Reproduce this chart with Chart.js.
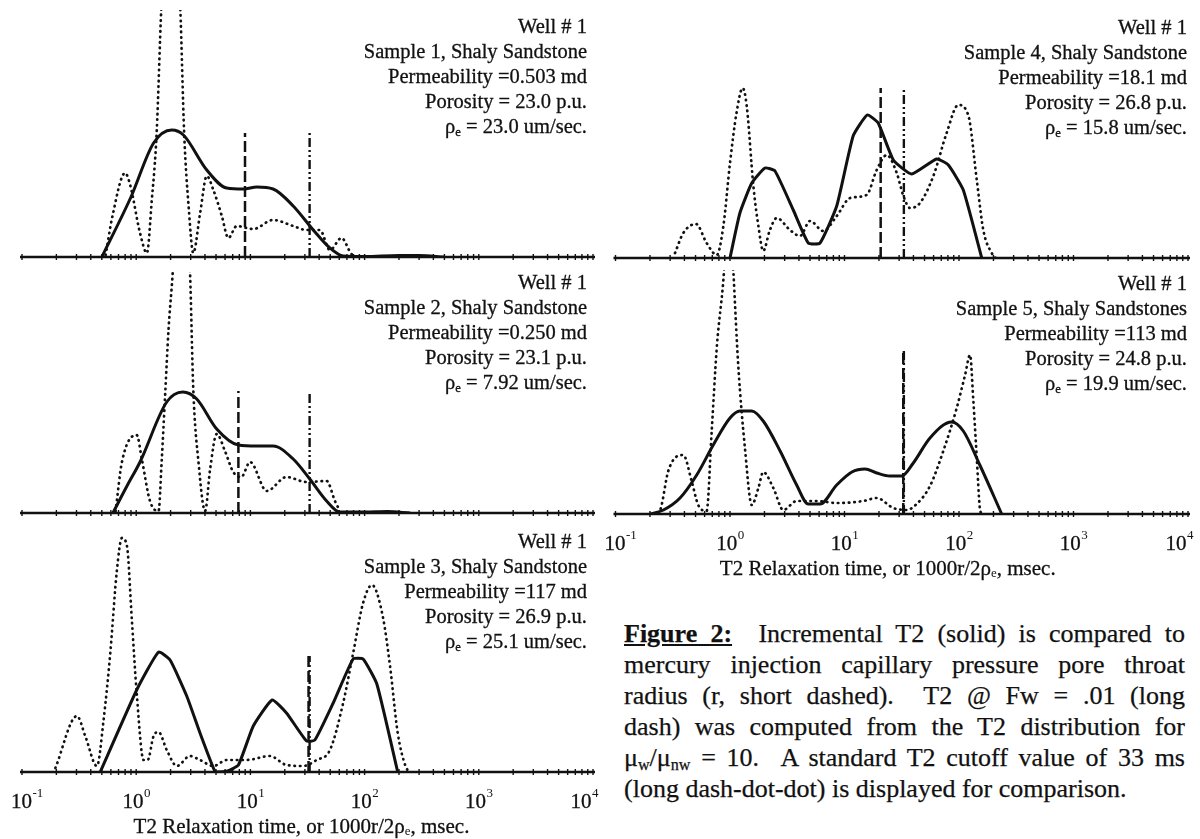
<!DOCTYPE html>
<html>
<head>
<meta charset="utf-8">
<script src="https://cdn.jsdelivr.net/npm/chart.js@4.4.1/dist/chart.umd.min.js"></script>
<style>
  body { margin: 0; background: #fff; }
  #page { position: relative; width: 1200px; height: 839px; overflow: hidden;
          font-family: "Liberation Serif", "Times New Roman", serif; color: #111; }
  #page canvas { position: absolute; }
  .info { position: absolute; text-align: right; font-size: 20.5px; line-height: 25px; white-space: nowrap;
          -webkit-text-stroke: 0.3px #111; }
  .info sub, .caption sub { font-size: 0.62em; line-height: 0; vertical-align: -0.25em; }
  .caption { position: absolute; left: 624px; top: 618px; width: 561px; font-size: 26px; line-height: 31px;
             -webkit-text-stroke: 0.25px #111; }
  .caption .j { text-align: justify; text-align-last: justify; }
</style>
</head>
<body>
<div id="page">
  <canvas id="panel1"></canvas>
  <canvas id="panel2"></canvas>
  <canvas id="panel3"></canvas>
  <canvas id="panel4"></canvas>
  <canvas id="panel5"></canvas>
  <div class="caption">
    <div class="j"><b><u>Figure 2:</u></b>&nbsp; Incremental T2 (solid) is compared to</div>
    <div class="j">mercury injection capillary pressure pore throat</div>
    <div class="j">radius (r, short dashed). &nbsp;T2 @ Fw = .01 (long</div>
    <div class="j">dash) was computed from the T2 distribution for</div>
    <div class="j">&mu;<sub>w</sub>/&mu;<sub>nw</sub> = 10. &nbsp;A standard T2 cutoff value of 33 ms</div>
    <div>(long dash-dot-dot) is displayed for comparison.</div>
  </div>
</div>
<script>
// sample descriptions
const wellName = 'Well # 1';
const sampleNames = ['Sample 1, Shaly Sandstone', 'Sample 2, Shaly Sandstone', 'Sample 3, Shaly Sandstone',
                     'Sample 4, Shaly Sandstone', 'Sample 5, Shaly Sandstones'];
const permeability = ['0.503', '0.250', '117', '18.1', '113'];
const porosity = ['23.0', '23.1', '26.9', '26.8', '24.8'];
const rhoE = ['23.0', '7.92', '25.1', '15.8', '19.9'];

// incremental T2 (solid), time in ms, amplitude in arbitrary units
const t2Time1 = [0.50, 0.9, 1.42, 2.05, 2.59, 4.15, 6.2, 8.7, 11.4, 15.8, 23.7, 35.5, 49.7, 65, 100, 200, 300, 500];
const t2Amp1 = [0, 60, 114, 127, 122, 87, 69, 68, 70, 68, 51, 27, 9, 1, 0.5, 1.5, 1.5, 0];
const t2Time2 = [0.625, 0.83, 1.08, 1.85, 2.56, 3.39, 5.07, 7.85, 11.4, 15.8, 23.7, 33.1, 46.5, 60.7, 100, 158, 251];
const t2Amp2 = [0, 27, 51, 111, 121, 114, 84, 68, 67, 67, 54, 34, 12, 1, 1, 1.5, 0];
const t2Time3 = [0.484, 1.01, 1.57, 1.98, 2.77, 3.62, 4.74, 5.0, 6.2, 7.85, 10.6, 15.5, 20.7, 31.0, 36.7, 53.1, 79.4, 97.0, 128, 195];
const t2Amp3 = [0, 82, 120, 112, 76, 39, 4, 0, 0.7, 7, 46, 72, 59, 31, 32, 69, 113, 113, 88, 0];
const t2Time4 = [1.0, 1.22, 1.55, 2.02, 2.47, 3.57, 4.83, 6.11, 8.55, 11.9, 15.8, 19.7, 26.7, 38.6, 63.8, 80.7, 109, 158];
const t2Amp4 = [0, 45, 75, 90, 87, 48, 15, 15, 52, 122, 143, 135, 98, 84, 99, 93, 68, 0];
const t2Time5 = [0.2, 0.262, 0.366, 0.512, 0.714, 1.0, 1.22, 1.55, 1.95, 2.74, 3.82, 4.83, 6.11, 8.55, 11.6, 15.1, 19.1,
                 24.9, 31.6, 39.9, 55.8, 86.3, 109, 152, 236];
const t2Amp5 = [0, 4, 16, 39, 69, 96, 103, 103, 93, 63, 29, 10, 10, 29, 42, 45, 41, 38, 38, 51, 76, 92, 83, 49, 0];

// mercury injection pore throat distribution (short dashed), plotted as 1000r/2rho_e
const hgTime1 = [0.54, 0.62, 0.80, 0.89, 1.08, 1.24, 1.37, 1.51, 1.66, 2.0, 2.43, 2.63, 2.88, 3.16, 3.63, 4.15, 4.74,
                 5.62, 6.41, 7.59, 9.27, 10.6, 15.8, 23.7, 31.0, 40.6, 49.7, 62.8, 76.7, 89];
const hgAmp1 = [2, 41, 84, 71, 24, 4, 57, 124, 250, 420, 250, 124, 50, 4, 44, 81, 67, 41, 19, 31, 29, 28, 37, 31, 27,
                27, 7, 19, 3, 0];
const hgTime2 = [0.66, 0.75, 1.01, 1.12, 1.32, 1.57, 1.67, 1.79, 1.92, 2.09, 2.49, 2.96, 3.16, 3.51, 4.01, 4.44, 5.07,
                 6.03, 7.08, 8.32, 9.93, 13.9, 20.7, 30.9, 46.5, 55.0, 60.7];
const hgAmp2 = [2, 51, 78, 54, 12, 2, 51, 117, 184, 241, 400, 241, 124, 51, 2, 44, 79, 61, 41, 36, 51, 22, 36, 31, 32, 12, 2];
const hgTime3 = [0.196, 0.303, 0.358, 0.453, 0.518, 0.593, 0.678, 0.75, 0.83, 0.916, 1.01, 1.16, 1.26, 1.42, 1.57, 1.85,
                 2.27, 2.96, 3.62, 4.74, 6.21, 9.27, 14.8, 20.7, 29.0, 38.0, 49.7, 64.9, 79.4, 97.0, 116, 144, 167, 195, 228, 245];
const hgAmp3 = [4, 56, 36, 6, 52, 119, 202, 234, 226, 152, 79, 12, 12, 36, 40, 22, 6, 16, 12, 6, 12, 12, 16, 7, 6, 12,
                22, 69, 119, 169, 187, 156, 106, 39, 6, 0];
const hgTime4 = [0.331, 0.391, 0.505, 0.625, 0.766, 0.875, 1.0, 1.14, 1.29, 1.40, 1.60, 1.77, 1.95, 2.23, 2.56, 3.34,
                 4.08, 5.0, 6.53, 8.55, 11.2, 15.6, 19.1, 23.4, 28.6, 32.7, 37.3, 45.6, 59.7, 78.0, 98.6, 121, 143, 163, 193, 209];
const hgAmp4 = [5, 25, 34, 15, 3, 32, 95, 145, 170, 152, 72, 32, 7, 28, 40, 28, 22, 37, 27, 42, 60, 63, 88, 103, 85, 62,
                50, 55, 82, 125, 153, 142, 78, 28, 5, 0];
const hgTime5 = [0.24, 0.253, 0.289, 0.391, 0.462, 0.528, 0.625, 0.692, 0.766, 0.887, 0.977, 1.07, 1.18, 1.35, 1.55, 1.77,
                 1.95, 2.39, 2.92, 3.82, 5.71, 8.55, 14.6, 19.1, 26.7, 34.9, 42.7, 55.8, 72.9, 95.5, 113, 125, 133, 143, 152, 158];
const hgAmp5 = [0, 9, 43, 59, 33, 9, 3, 83, 166, 243, 330, 243, 149, 66, 9, 26, 42, 26, 4, 13, 13, 11, 13, 16, 6, 4, 10,
                28, 63, 106, 139, 159, 116, 56, 6, 0];

// T2 @ Fw = .01 (long dash) and the standard 33 ms cutoff (dash-dot-dot)
const fwCutoff = [8.97, 7.85, 32.3, 20.7, 32.6];
const standardCutoff = 33;
const markerHeight = [124, 122, 116, 170, 163];

// x axis
const tickExponents = [-1, 0, 1, 2, 3, 4];
const axisTitle = ['T2 Relaxation time, or 1000r/2\u03c1', 'e', ', msec.'];

const t2Times = [t2Time1, t2Time2, t2Time3, t2Time4, t2Time5];
const t2Amps = [t2Amp1, t2Amp2, t2Amp3, t2Amp4, t2Amp5];
const hgTimes = [hgTime1, hgTime2, hgTime3, hgTime4, hgTime5];
const hgAmps = [hgAmp1, hgAmp2, hgAmp3, hgAmp4, hgAmp5];

// panel boxes on the page (left column 1-3, right column 4-5)
const panels = [
  { left: 0,   top: 0,   width: 600, height: 265, pad: { left: 22, right: 7, top: 10, bottom: 8 },  ymax: 247, labels: false, smooth: true },
  { left: 0,   top: 265, width: 600, height: 260, pad: { left: 22, right: 7, top: 7, bottom: 12 },  ymax: 241, labels: false, smooth: true },
  { left: 0,   top: 525, width: 600, height: 314, pad: { left: 22, right: 7, top: 2, bottom: 67 },  ymax: 245, labels: true,  smooth: false, titleShift: -6 },
  { left: 600, top: 0,   width: 600, height: 265, pad: { left: 15.5, right: 12, top: 11, bottom: 7 }, ymax: 247, labels: false, smooth: false },
  { left: 600, top: 265, width: 600, height: 320, pad: { left: 15.5, right: 12, top: 5, bottom: 71 }, ymax: 244, labels: true,  smooth: true, titleShift: -14 }
];

const ink = '#111';
const serif = '"Liberation Serif", "Times New Roman", serif';

function points(xs, ys) {
  return xs.map((x, i) => ({ x: x, y: ys[i] }));
}

// baseline with log ticks, and decade labels on the bottom panels
const logAxis = {
  id: 'logAxis',
  afterDatasetsDraw(chart, args, opts) {
    const ctx = chart.ctx;
    const area = chart.chartArea;
    const x = chart.scales.x;
    const y0 = area.bottom;
    ctx.save();
    ctx.strokeStyle = ink;
    ctx.lineWidth = 2.5;
    ctx.beginPath();
    ctx.moveTo(area.left - 2, y0);
    ctx.lineTo(area.right + 2, y0);
    ctx.stroke();

    ctx.lineWidth = 1.4;
    for (let e = tickExponents[0]; e <= tickExponents[tickExponents.length - 1]; e++) {
      for (let m = 1; m <= 9; m++) {
        const v = m * Math.pow(10, e);
        if (v > x.max * 1.0001) break;
        const px = x.getPixelForValue(v);
        ctx.beginPath();
        ctx.moveTo(px, y0 - 3);
        ctx.lineTo(px, y0 + 3);
        ctx.stroke();
      }
    }

    if (opts.labels) {
      ctx.fillStyle = ink;
      ctx.strokeStyle = ink;
      ctx.lineWidth = 0.3;
      ctx.textBaseline = 'middle';
      ctx.textAlign = 'left';
      tickExponents.forEach(e => {
        const px = x.getPixelForValue(Math.pow(10, e));
        ctx.font = '21px ' + serif;
        const wBase = ctx.measureText('10').width;
        ctx.font = '13px ' + serif;
        const exp = String(e);
        const wExp = ctx.measureText(exp).width;
        let x0 = px - (wBase + wExp) / 2;
        // keep the end labels inside the panel
        x0 = Math.max(x0, area.left - 11);
        x0 = Math.min(x0, area.right + 5 - wBase - wExp);
        ctx.font = '21px ' + serif;
        ctx.fillText('10', x0, y0 + 30);
        ctx.strokeText('10', x0, y0 + 30);
        ctx.font = '13px ' + serif;
        ctx.fillText(exp, x0 + wBase + 0.5, y0 + 22);
      });

      // axis title with subscript e
      ctx.font = '21px ' + serif;
      const w1 = ctx.measureText(axisTitle[0]).width;
      const w3 = ctx.measureText(axisTitle[2]).width;
      ctx.font = '13px ' + serif;
      const w2 = ctx.measureText(axisTitle[1]).width;
      const cx = (area.left + area.right) / 2 + (opts.titleShift || 0);
      let tx = cx - (w1 + w2 + w3) / 2;
      const ty = y0 + 55;
      ctx.font = '21px ' + serif;
      ctx.fillText(axisTitle[0], tx, ty);
      ctx.strokeText(axisTitle[0], tx, ty);
      tx += w1;
      ctx.font = '13px ' + serif;
      ctx.fillText(axisTitle[1], tx, ty + 5);
      tx += w2;
      ctx.font = '21px ' + serif;
      ctx.fillText(axisTitle[2], tx, ty);
      ctx.strokeText(axisTitle[2], tx, ty);
    }
    ctx.restore();
  }
};

panels.forEach((p, i) => {
  const canvas = document.getElementById('panel' + (i + 1));
  canvas.width = p.width;
  canvas.height = p.height;
  canvas.style.left = p.left + 'px';
  canvas.style.top = p.top + 'px';

  const solid = {
    label: 'Incremental T2',
    data: points(t2Times[i], t2Amps[i]),
    borderColor: ink,
    borderWidth: 3,
    pointRadius: 0
  };
  if (p.smooth) solid.cubicInterpolationMode = 'monotone';
  else solid.tension = 0.15;

  new Chart(canvas, {
    type: 'line',
    data: {
      datasets: [
        solid,
        {
          label: 'Pore throat radius',
          data: points(hgTimes[i], hgAmps[i]),
          borderColor: ink,
          borderWidth: 2.7,
          borderDash: [0.5, 5],
          borderCapStyle: 'round',
          cubicInterpolationMode: 'monotone',
          pointRadius: 0
        },
        {
          label: 'T2 @ Fw = .01',
          data: [{ x: fwCutoff[i], y: 0 }, { x: fwCutoff[i], y: markerHeight[i] }],
          borderColor: ink,
          borderWidth: 2.5,
          borderDash: [11, 4],
          pointRadius: 0
        },
        {
          label: 'T2 cutoff 33 ms',
          data: [{ x: standardCutoff, y: 0 }, { x: standardCutoff, y: markerHeight[i] }],
          borderColor: ink,
          borderWidth: 2.4,
          borderDash: [9, 3, 2, 3, 2, 3],
          pointRadius: 0
        }
      ]
    },
    options: {
      responsive: false,
      animation: false,
      devicePixelRatio: 1,
      layout: { padding: p.pad },
      scales: {
        x: { type: 'logarithmic', min: 0.1, max: 10000, display: false },
        y: { min: 0, max: p.ymax, display: false }
      },
      plugins: {
        legend: { display: false },
        tooltip: { enabled: false },
        logAxis: { labels: p.labels, titleShift: p.titleShift }
      }
    },
    plugins: [logAxis]
  });

  // sample description block, right aligned above the curves
  const info = document.createElement('div');
  info.className = 'info';
  const baseline = p.top + p.height - p.pad.bottom;
  info.style.top = (baseline - 243.5) + 'px';
  info.style.right = (p.left === 0 ? 613 : 13) + 'px';
  info.innerHTML = wellName + '<br>' + sampleNames[i] + '<br>Permeability =' + permeability[i] + ' md<br>' +
    'Porosity = ' + porosity[i] + ' p.u.<br>&rho;<sub>e</sub> = ' + rhoE[i] + ' um/sec.';
  document.getElementById('page').appendChild(info);
});
</script>
</body>
</html>
